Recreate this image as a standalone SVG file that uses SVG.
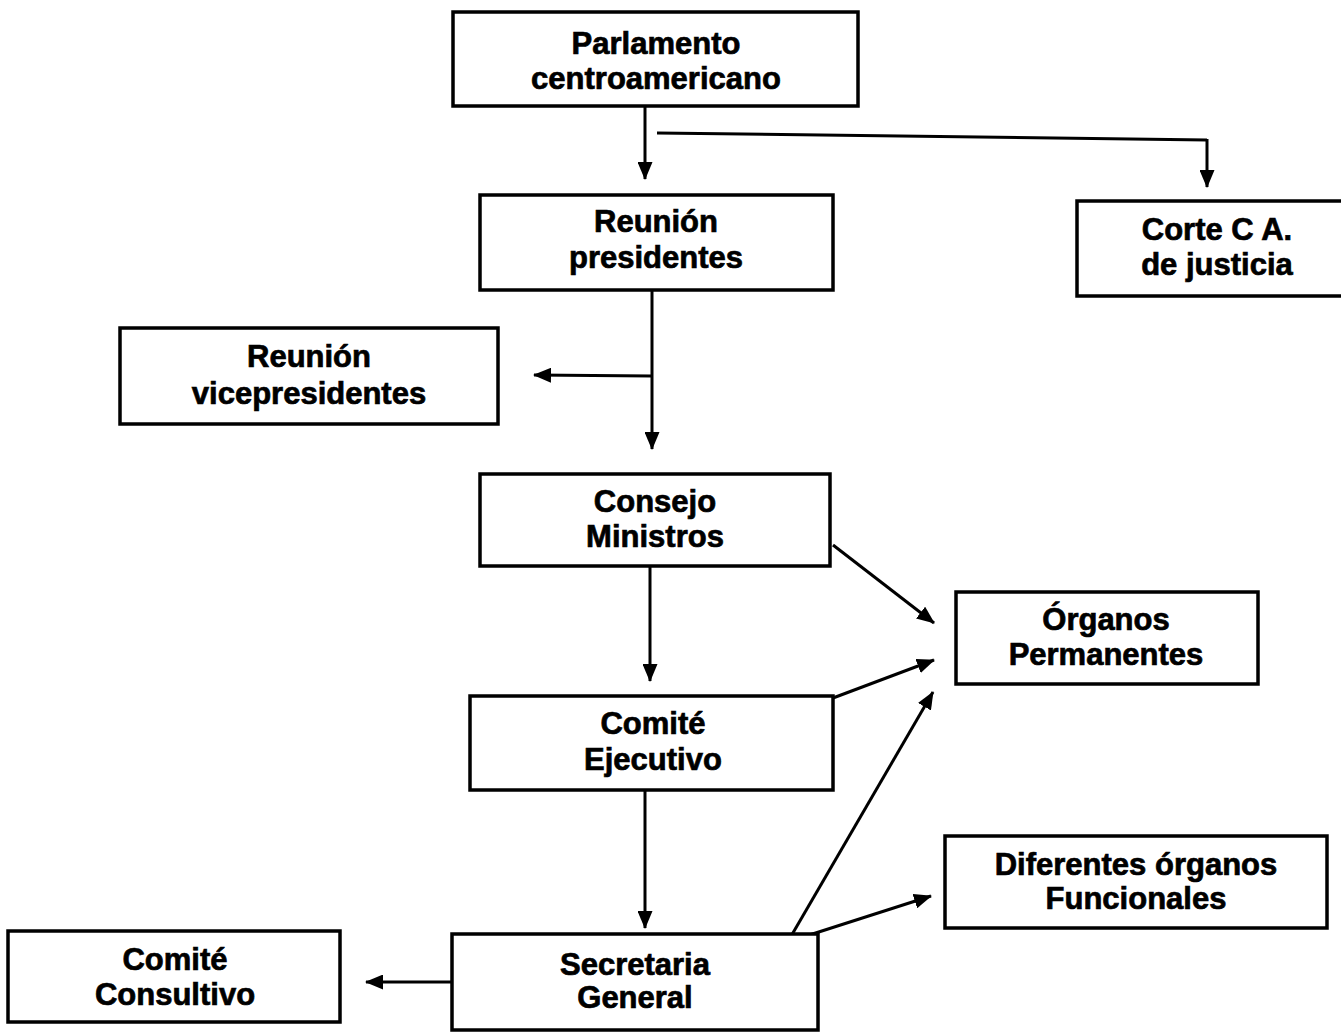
<svg xmlns="http://www.w3.org/2000/svg" width="1341" height="1036" viewBox="0 0 1341 1036">
<style>
.box{fill:#fff;stroke:#000;stroke-width:3.5}
.t{font-family:"Liberation Sans",Arial,sans-serif;font-weight:bold;font-size:31px;text-anchor:middle;fill:#000;stroke:#000;stroke-width:0.7}
.c{fill:none;stroke:#000;stroke-width:3;marker-end:url(#ah)}
.l{fill:none;stroke:#000;stroke-width:3}
</style>
<defs>
<marker id="ah" markerUnits="userSpaceOnUse" markerWidth="18" markerHeight="15" refX="17" refY="7.5" orient="auto">
<path d="M0,0 L18,7.5 L0,15 Z" fill="#000"/>
</marker>
</defs>
<rect width="1341" height="1036" fill="#fff"/>
<g id="connectors">
<path class="c" d="M645,107 L645,179"/>
<path class="l" d="M657,133 L1207,140"/>
<path class="c" d="M1207,139 L1207,187"/>
<path class="c" d="M652,290 L652,449"/>
<path class="c" d="M652,376 L534,375"/>
<path class="c" d="M833,545 L934,623"/>
<path class="c" d="M650,566 L650,681"/>
<path class="c" d="M833,698 L934,660"/>
<path class="c" d="M645,790 L645,928"/>
<path class="c" d="M790,938 L933,692"/>
<path class="c" d="M800,938 L931,896"/>
<path class="c" d="M452,982 L366,982"/>
</g>
<g id="parlamento"><rect class="box" x="453" y="12" width="405" height="94"/><text class="t" x="656" y="54">Parlamento</text><text class="t" x="656" y="89">centroamericano</text></g>
<g id="presidentes"><rect class="box" x="480" y="195" width="353" height="95"/><text class="t" x="656" y="232">Reunión</text><text class="t" x="656" y="268">presidentes</text></g>
<g id="corte"><rect class="box" x="1077" y="201" width="270" height="95"/><text class="t" x="1217" y="240">Corte C A.</text><text class="t" x="1217" y="275">de justicia</text></g>
<g id="vicepresidentes"><rect class="box" x="120" y="328" width="378" height="96"/><text class="t" x="309" y="367">Reunión</text><text class="t" x="309" y="404">vicepresidentes</text></g>
<g id="consejo"><rect class="box" x="480" y="474" width="350" height="92"/><text class="t" x="655" y="512">Consejo</text><text class="t" x="655" y="547">Ministros</text></g>
<g id="organos"><rect class="box" x="956" y="592" width="302" height="92"/><text class="t" x="1106" y="630">Órganos</text><text class="t" x="1106" y="665">Permanentes</text></g>
<g id="ejecutivo"><rect class="box" x="470" y="696" width="363" height="94"/><text class="t" x="653" y="734">Comité</text><text class="t" x="653" y="770">Ejecutivo</text></g>
<g id="funcionales"><rect class="box" x="945" y="836" width="382" height="92"/><text class="t" x="1136" y="875">Diferentes órganos</text><text class="t" x="1136" y="909">Funcionales</text></g>
<g id="consultivo"><rect class="box" x="8" y="931" width="332" height="91"/><text class="t" x="175" y="970">Comité</text><text class="t" x="175" y="1005">Consultivo</text></g>
<g id="secretaria"><rect class="box" x="452" y="934" width="366" height="96"/><text class="t" x="635" y="975">Secretaria</text><text class="t" x="635" y="1008">General</text></g>
</svg>
